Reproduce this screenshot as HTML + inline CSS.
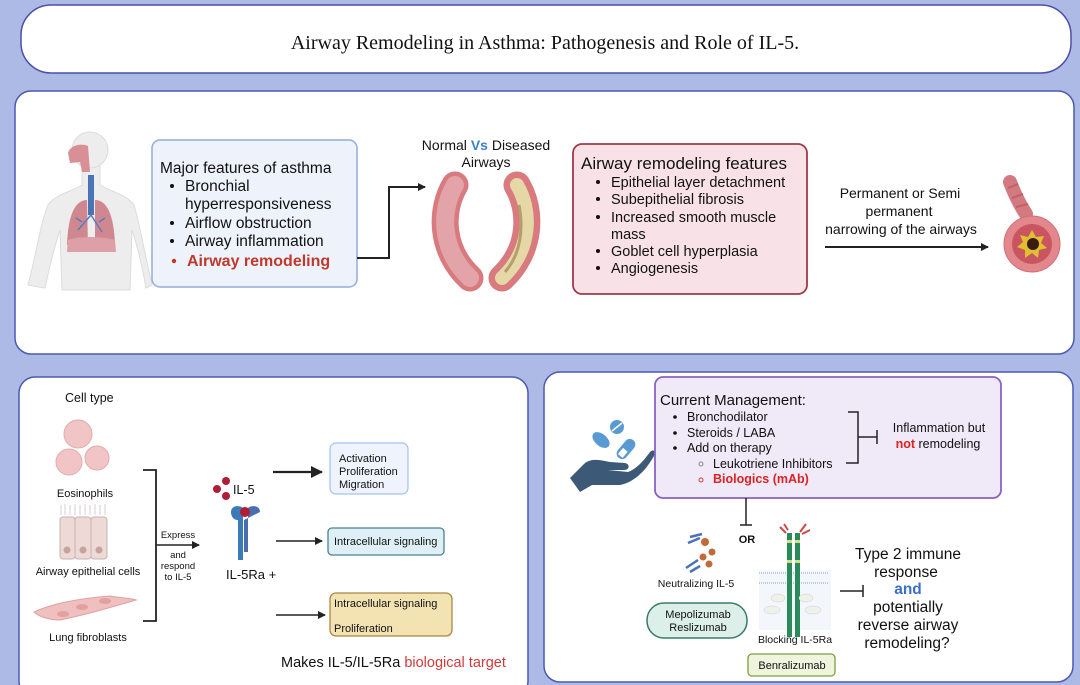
<!DOCTYPE html>
<html><head><meta charset="utf-8">
<style>
html,body{margin:0;padding:0;background:#aebae6;}
svg{display:block;font-family:"Liberation Sans",sans-serif;}
</style></head><body>
<svg width="1080" height="685" viewBox="0 0 1080 685" xmlns="http://www.w3.org/2000/svg">
<rect width="1080" height="685" fill="#aebae6"/>
<defs>
<marker id="ah" markerWidth="8" markerHeight="8" refX="7" refY="4" orient="auto" markerUnits="userSpaceOnUse"><path d="M0,0 L8,4 L0,8 z" fill="#222"/></marker>
<marker id="ahb" markerWidth="12" markerHeight="12" refX="11" refY="6" orient="auto" markerUnits="userSpaceOnUse"><path d="M0,0 L12,6 L0,12 z" fill="#222"/></marker>
</defs>
<!-- title -->
<rect x="21" y="5" width="1050" height="68" rx="30" fill="#fff" stroke="#4a50a8" stroke-width="1.5"/>
<text x="545" y="49" text-anchor="middle" font-family="Liberation Serif, serif" font-size="20" fill="#111">Airway Remodeling in Asthma: Pathogenesis and Role of IL-5.</text>

<!-- middle panel -->
<rect x="15" y="91" width="1059" height="263" rx="16" fill="#fff" stroke="#4a5ab0" stroke-width="1.5"/>
<!-- body -->
<g>
<path d="M82,166 L82,185 C70,192 55,195 48,205 C40,225 36,255 28,285 L45,288 C50,265 55,245 60,230 L62,290 L130,290 L132,230 C137,245 142,265 146,288 L152,285 C145,255 140,225 134,205 C127,195 112,192 100,185 L100,166 Z" fill="#ededed" stroke="#dcdcdc"/>
<circle cx="90" cy="150" r="18" fill="#ededed" stroke="#dcdcdc"/>
<path d="M68,153 C70,145 82,143 88,146 L90,172 L82,172 L80,162 L70,163 Z" fill="#d98f96"/>
<rect x="88" y="175" width="6" height="40" fill="#4a74b4"/>
<path d="M87,200 C75,200 68,215 67,245 L88,248 Z" fill="#d08890"/>
<path d="M95,200 C107,200 114,215 115,245 L95,248 Z" fill="#d08890"/>
<path d="M68,240 C80,236 100,236 115,240 L116,252 L67,252 Z" fill="#dca0a6"/>
<path d="M91,215 L78,230 M91,215 L102,232 M82,222 L76,218 M99,222 L105,218" stroke="#5a7abf" stroke-width="1.5" fill="none"/>
</g>
<!-- blue box -->
<rect x="152" y="140" width="205" height="147" rx="8" fill="#eef3fb" stroke="#94acdc" stroke-width="1.5"/>
<g font-size="15.5" fill="#111">
<text x="160" y="173">Major features of asthma</text>
<text x="185" y="191">Bronchial</text>
<text x="185" y="209">hyperresponsiveness</text>
<text x="185" y="228">Airflow obstruction</text>
<text x="185" y="246">Airway inflammation</text>
</g>
<g fill="#111"><circle cx="172" cy="186" r="2"/><circle cx="172" cy="223" r="2"/><circle cx="172" cy="241" r="2"/></g>
<circle cx="174" cy="261" r="2.2" fill="#c0392b"/>
<text x="187" y="266" font-size="16" font-weight="bold" fill="#c0392b">Airway remodeling</text>
<path d="M357,258 H389 V187 H425" fill="none" stroke="#222" stroke-width="2" marker-end="url(#ah)"/>
<text x="486" y="150" text-anchor="middle" font-size="14" fill="#111">Normal <tspan fill="#3d7fd0" font-weight="bold">Vs</tspan> Diseased</text>
<text x="486" y="167" text-anchor="middle" font-size="14" fill="#111">Airways</text>
<!-- airways -->
<path d="M455,185 C440,210 440,250 470,278" fill="none" stroke="#d97a7f" stroke-width="27" stroke-linecap="round"/>
<path d="M455,185 C440,210 440,250 470,278" fill="none" stroke="#e2a4a8" stroke-width="18" stroke-linecap="round"/>
<path d="M517,185 C532,210 532,250 502,278" fill="none" stroke="#d97a7f" stroke-width="27" stroke-linecap="round"/>
<path d="M517,185 C532,210 532,250 502,278" fill="none" stroke="#e6d8a6" stroke-width="14" stroke-linecap="round"/>
<path d="M519,205 C524,230 520,255 505,272" fill="none" stroke="#b59e6e" stroke-width="3"/>
<!-- pink box -->
<rect x="573" y="144" width="234" height="150" rx="9" fill="#f8e2e8" stroke="#a03a4a" stroke-width="1.8"/>
<text x="581" y="169" font-size="17" fill="#111">Airway remodeling features</text>
<g font-size="14.5" fill="#111">
<text x="611" y="187">Epithelial layer detachment</text>
<text x="611" y="204">Subepithelial fibrosis</text>
<text x="611" y="222">Increased smooth muscle</text>
<text x="611" y="239">mass</text>
<text x="611" y="256">Goblet cell hyperplasia</text>
<text x="611" y="273">Angiogenesis</text>
</g>
<g fill="#111"><circle cx="598" cy="182" r="2"/><circle cx="598" cy="199" r="2"/><circle cx="598" cy="217" r="2"/><circle cx="598" cy="251" r="2"/><circle cx="598" cy="268" r="2"/></g>
<g font-size="14" fill="#111" text-anchor="middle">
<text x="900" y="198">Permanent or Semi</text>
<text x="899" y="216">permanent</text>
<text x="901" y="234">narrowing of the airways</text>
</g>
<line x1="825" y1="247" x2="988" y2="247" stroke="#222" stroke-width="2" marker-end="url(#ah)"/>
<path d="M1010,182 C1014,192 1018,202 1026,214" stroke="#d27a80" stroke-width="14" stroke-linecap="round" fill="none"/>
<path d="M1008,188 L1018,184 M1012,198 L1023,194 M1016,207 L1028,204" stroke="#c0606a" stroke-width="2"/>
<circle cx="1032" cy="244" r="28" fill="#e4878d" stroke="#d36d75"/>
<circle cx="1032" cy="244" r="20" fill="#c85560"/>
<path d="M1032,230 L1036,237 L1044,236 L1041,243 L1047,248 L1039,250 L1038,258 L1032,253 L1025,258 L1025,250 L1017,247 L1023,242 L1020,235 L1028,237 Z" fill="#e0c030"/>
<circle cx="1033" cy="244" r="6" fill="#3a1c12"/>

<!-- bottom left -->
<rect x="19" y="377" width="509" height="320" rx="16" fill="#fff" stroke="#4a5ab0" stroke-width="1.5"/>
<text x="65" y="402" font-size="12.5" fill="#111">Cell type</text>
<g fill="#f1c5c5" stroke="#e5aaaa">
<circle cx="78" cy="434" r="14"/><circle cx="69" cy="462" r="13"/><circle cx="97" cy="458" r="12"/>
</g>
<text x="85" y="497" text-anchor="middle" font-size="11" fill="#111">Eosinophils</text>
<g fill="#eddad6" stroke="#c9b2ac">
<rect x="60" y="517" width="15" height="42" rx="3"/><rect x="75" y="517" width="16" height="42" rx="3"/><rect x="91" y="517" width="16" height="42" rx="3"/>
</g>
<g fill="#c7a39c"><circle cx="67" cy="550" r="3.5"/><circle cx="83" cy="550" r="3.5"/><circle cx="99" cy="550" r="3.5"/></g>
<path d="M61,515 V505 M65,515 V504 M70,515 V505 M75,515 V504 M80,515 V505 M85,515 V504 M90,515 V505 M95,515 V504 M100,515 V505 M105,515 V504" stroke="#d8cccc" stroke-width="1"/>
<text x="88" y="575" text-anchor="middle" font-size="11" fill="#111">Airway epithelial cells</text>
<g fill="#f0c0c0" stroke="#e0a0a0"><path d="M34,612 C55,602 85,598 110,596 C120,598 130,598 136,600 C115,606 90,614 60,620 C48,620 38,616 34,612 Z"/></g>
<g fill="#e3a0a0"><ellipse cx="63" cy="614" rx="6" ry="3"/><ellipse cx="82" cy="607" rx="6" ry="3"/><ellipse cx="105" cy="601" rx="6" ry="3"/></g>
<text x="88" y="641" text-anchor="middle" font-size="11" fill="#111">Lung fibroblasts</text>
<path d="M143,470 H156 V621 H143" fill="none" stroke="#222" stroke-width="1.8"/>
<line x1="156" y1="545" x2="199" y2="545" stroke="#222" stroke-width="1.5" marker-end="url(#ah)"/>
<g font-size="9.5" fill="#111" text-anchor="middle">
<text x="178" y="538">Express</text><text x="178" y="558">and</text><text x="178" y="569">respond</text><text x="178" y="580">to IL-5</text>
</g>
<g fill="#b01e36"><circle cx="226" cy="481" r="4"/><circle cx="217" cy="489" r="4"/><circle cx="226" cy="496" r="4"/></g>
<text x="233" y="494" font-size="12.5" fill="#111">IL-5</text>
<path d="M231,512 C231,505 240,505 243,508 L243,560 L238,560 L238,520 C234,520 231,517 231,512 Z" fill="#3c7bb7"/>
<path d="M260,512 C260,505 251,505 248,508 L248,552 L244,552 L244,520 Z" fill="#4a6fae"/>
<circle cx="245" cy="512" r="5" fill="#b01e36"/>
<text x="226" y="579" font-size="13" fill="#111">IL-5Ra +</text>
<line x1="273" y1="472" x2="322" y2="472" stroke="#222" stroke-width="2.2" marker-end="url(#ahb)"/>
<line x1="276" y1="541" x2="322" y2="541" stroke="#222" stroke-width="1.5" marker-end="url(#ah)"/>
<line x1="276" y1="615" x2="325" y2="615" stroke="#222" stroke-width="1.5" marker-end="url(#ah)"/>
<rect x="330" y="443" width="78" height="51" rx="6" fill="#eef3fd" stroke="#a9c1ee" stroke-width="1.2"/>
<g font-size="11" fill="#111"><text x="339" y="462">Activation</text><text x="339" y="475">Proliferation</text><text x="339" y="488">Migration</text></g>
<rect x="328" y="528" width="116" height="27" rx="4" fill="#def0f6" stroke="#4d8090" stroke-width="1.3"/>
<text x="334" y="545" font-size="11" fill="#111">Intracellular signaling</text>
<rect x="330" y="593" width="122" height="43" rx="6" fill="#f3e2b2" stroke="#a88840" stroke-width="1.3"/>
<g font-size="11" fill="#111"><text x="334" y="607">Intracellular signaling</text><text x="334" y="632">Proliferation</text></g>
<text x="281" y="667" font-size="14.5" fill="#111">Makes IL-5/IL-5Ra <tspan fill="#d23a3a">biological target</tspan></text>

<!-- bottom right -->
<rect x="544" y="372" width="529" height="310" rx="16" fill="#fff" stroke="#4a5ab0" stroke-width="1.5"/>
<!-- hand icon -->
<path d="M570,478 L585,463 C592,458 600,460 610,462 L625,463 C630,464 630,470 624,470 L608,470 L628,472 C638,468 644,460 650,452 C654,448 656,452 654,456 C646,470 635,482 620,485 L592,485 L580,492 Z" fill="#3c5a78"/>
<ellipse cx="601" cy="440" rx="10" ry="6" transform="rotate(40 601 440)" fill="#5a9ad2"/>
<circle cx="617" cy="427" r="7" fill="#5a9ad2"/>
<line x1="612" y1="431" x2="622" y2="423" stroke="#fff" stroke-width="1.5"/>
<rect x="621" y="438" width="10" height="22" rx="5" transform="rotate(40 626 449)" fill="#5a9ad2" stroke="#5a9ad2"/>
<rect x="623" y="450" width="6" height="8" transform="rotate(40 626 449)" fill="#fff"/>
<rect x="655" y="377" width="346" height="121" rx="8" fill="#efe9f8" stroke="#8a62c2" stroke-width="1.8"/>
<text x="660" y="405" font-size="15" fill="#111">Current Management:</text>
<g font-size="12.5" fill="#111">
<text x="687" y="421">Bronchodilator</text><text x="687" y="437">Steroids / LABA</text><text x="687" y="452">Add on therapy</text>
<text x="713" y="468">Leukotriene Inhibitors</text>
</g>
<g fill="#111"><circle cx="675" cy="417" r="1.8"/><circle cx="675" cy="433" r="1.8"/><circle cx="675" cy="448" r="1.8"/></g>
<circle cx="701" cy="464" r="2" fill="none" stroke="#888"/>
<circle cx="701" cy="480" r="2" fill="none" stroke="#d04040"/>
<text x="713" y="483" font-size="12.5" font-weight="bold" fill="#d22">Biologics (mAb)</text>
<path d="M846,463 H858 V412 H848 M858,437 H877 M877,430 V444" fill="none" stroke="#222" stroke-width="1.5"/>
<g font-size="12.5" fill="#111" text-anchor="middle"><text x="939" y="432">Inflammation but</text><text x="938" y="448"><tspan fill="#d22" font-weight="bold">not</tspan> remodeling</text></g>
<path d="M746,498 V525 M740,525 H752" stroke="#222" stroke-width="1.5" fill="none"/>
<text x="747" y="543" text-anchor="middle" font-size="11" font-weight="bold" fill="#111">OR</text>
<!-- neutralizing -->
<g stroke="#4a72b8" stroke-width="2.5" fill="none"><path d="M688,543 L700,538 M690,537 L702,534"/><path d="M686,568 L698,560 M690,572 L700,566"/></g>
<g fill="#c06a3a"><circle cx="705" cy="542" r="4"/><circle cx="712" cy="552" r="3.5"/><circle cx="703" cy="557" r="3.5"/><circle cx="709" cy="564" r="3.5"/></g>
<text x="696" y="587" text-anchor="middle" font-size="10.5" fill="#111">Neutralizing IL-5</text>
<rect x="647" y="603" width="100" height="35" rx="17" fill="#dcefe9" stroke="#3a7a6a" stroke-width="1.5"/>
<g font-size="11" fill="#111" text-anchor="middle"><text x="698" y="618">Mepolizumab</text><text x="698" y="631">Reslizumab</text></g>
<!-- blocking receptor -->
<rect x="759" y="570" width="72" height="60" fill="#f3f6fb"/>
<g stroke="#8aa0c8" stroke-width="1" stroke-dasharray="1 1"><line x1="759" y1="573" x2="829" y2="573"/><line x1="759" y1="583" x2="829" y2="583"/></g>
<rect x="787" y="533" width="5" height="104" fill="#2a8a5a"/><rect x="795" y="533" width="5" height="104" fill="#2a8a5a"/>
<g fill="#cfe090"><rect x="787" y="540" width="5" height="3"/><rect x="795" y="540" width="5" height="3"/><rect x="787" y="560" width="5" height="3"/><rect x="795" y="560" width="5" height="3"/></g>
<path d="M780,527 L786,533 M784,524 L788,530 M806,524 L800,532 M810,530 L802,534" stroke="#d04848" stroke-width="2"/>
<g stroke="#ccd" stroke-width="0.5"><ellipse cx="778" cy="598" rx="7" ry="4" fill="#eef2ea"/><ellipse cx="806" cy="598" rx="7" ry="4" fill="#eef2ea"/><ellipse cx="772" cy="610" rx="8" ry="4" fill="#eef2ea"/><ellipse cx="813" cy="610" rx="8" ry="4" fill="#eef2ea"/></g>
<text x="795" y="643" text-anchor="middle" font-size="10.5" fill="#111">Blocking IL-5Ra</text>
<rect x="748" y="654" width="87" height="22" rx="4" fill="#eef5dc" stroke="#7aa040" stroke-width="1.3"/>
<text x="792" y="669" text-anchor="middle" font-size="11" fill="#111">Benralizumab</text>
<path d="M840,591 H863 M863,585 V597" stroke="#222" stroke-width="1.5" fill="none"/>
<g font-size="15.5" fill="#111" text-anchor="middle">
<text x="908" y="559">Type 2 immune</text><text x="906" y="577">response</text>
<text x="908" y="594" fill="#3a6fc8" font-weight="bold">and</text>
<text x="908" y="612">potentially</text><text x="908" y="630">reverse airway</text><text x="907" y="648">remodeling?</text>
</g>
</svg>
</body></html>
